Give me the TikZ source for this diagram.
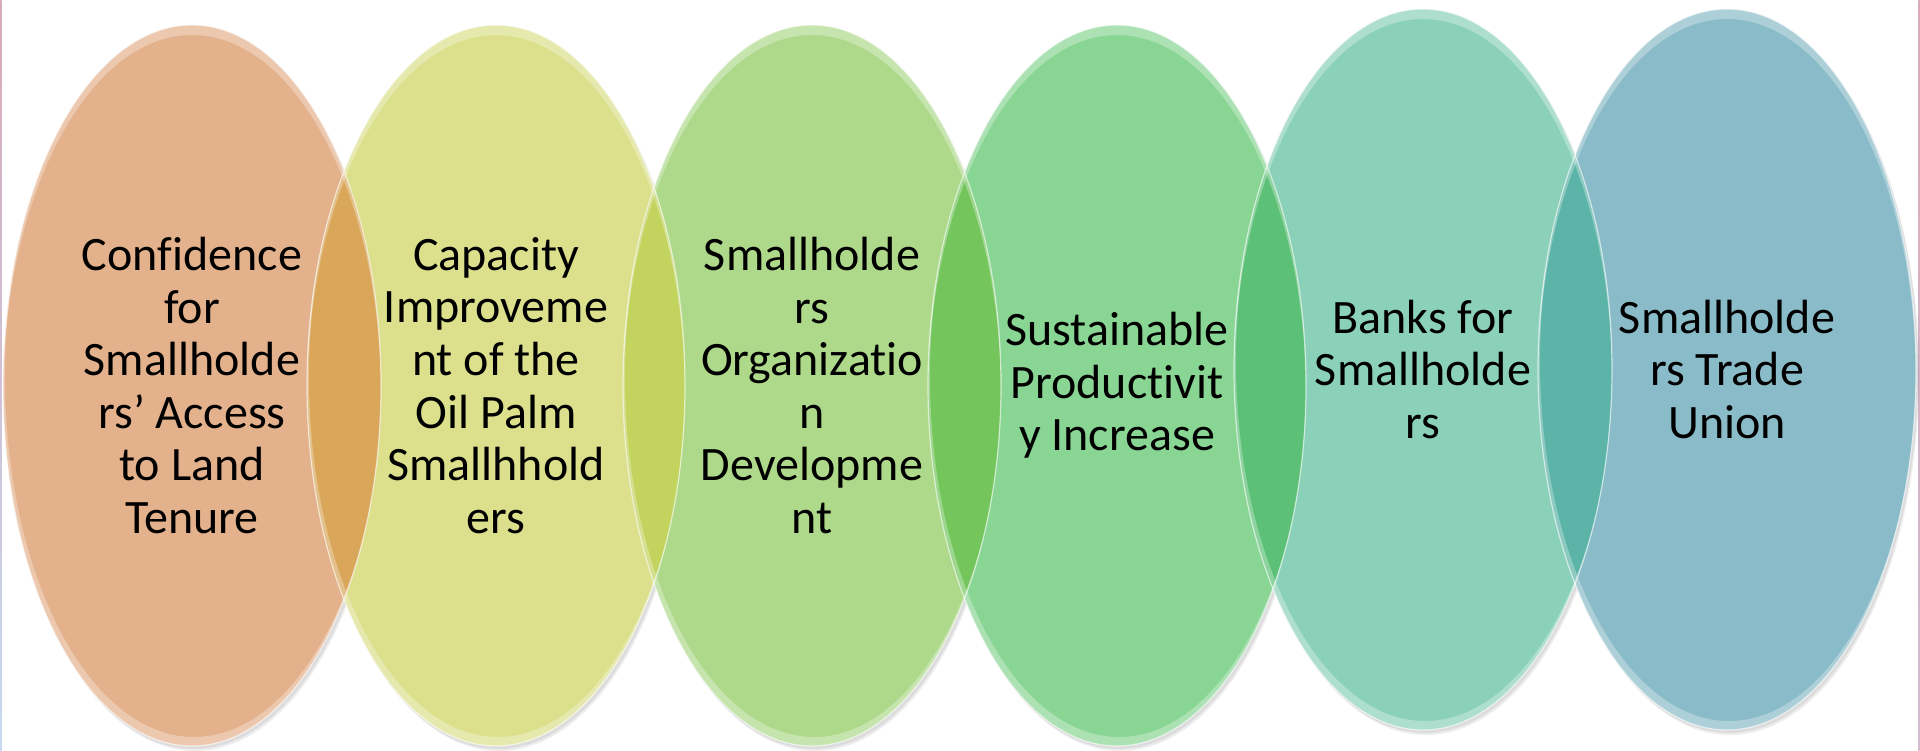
\documentclass[tikz,border=0pt]{standalone}
\usepackage{fontspec}
\setmainfont{Carlito}[Ligatures=NoCommon]
\definecolor{cA}{HTML}{E3B18B}
\definecolor{cB}{HTML}{DCE08C}
\definecolor{cC}{HTML}{AED98A}
\definecolor{cD}{HTML}{89D594}
\definecolor{cE}{HTML}{8BD1B9}
\definecolor{cF}{HTML}{8ABBC8}
\definecolor{oAB}{HTML}{D9A65A}
\definecolor{oBC}{HTML}{C2D35E}
\definecolor{oCD}{HTML}{74C55C}
\definecolor{oDE}{HTML}{5CC077}
\definecolor{oEF}{HTML}{5BB4A7}
\definecolor{edgeTop}{HTML}{D9A9B9}
\definecolor{edgeBot}{HTML}{C6D9F1}
\tikzset{
  lbl/.style={align=center, text=black, inner sep=0pt,
    font=\fontsize{48}{52.6}\selectfont},
  rad/.style={x radius=189, y radius=360.5},
  rimline/.style={draw=white, draw opacity=0.6, line width=1.2pt},
  shadowring/.style={fill=black, fill opacity=0.07},
  gloss/.style={fill=white, fill opacity=0.3, even odd rule}
}
\begin{document}
\begin{tikzpicture}[x=1pt,y=-1pt]
\useasboundingbox (0,0) rectangle (1920,750);
\fill[white] (0,0) rectangle (1920,750);
% page edge lines
\shade[top color=edgeTop, bottom color=edgeBot] (0,0) rectangle (1.6,750);
\shade[top color=edgeTop, bottom color=edgeTop!60!edgeBot] (1918.4,0) rectangle (1920,750);
% centres
\coordinate (pA) at (192,385.5);
\coordinate (pB) at (496,385.5);
\coordinate (pC) at (812,385.5);
\coordinate (pD) at (1117,385.5);
\coordinate (pE) at (1423,369.5);
\coordinate (pF) at (1727,369.5);
% soft shadows
\foreach \p in {pA,pB,pC,pD,pE,pF}{
  \fill[shadowring] ([shift={(3,5)}]\p) ellipse [rad];
  \fill[shadowring] ([shift={(2,3)}]\p) ellipse [rad];
}
% fills
\fill[cA] (pA) ellipse [rad];
\fill[cB] (pB) ellipse [rad];
\fill[cC] (pC) ellipse [rad];
\fill[cD] (pD) ellipse [rad];
\fill[cE] (pE) ellipse [rad];
\fill[cF] (pF) ellipse [rad];
% overlaps
\begin{scope}\clip (pA) ellipse [rad]; \fill[oAB] (pB) ellipse [rad];\end{scope}
\begin{scope}\clip (pB) ellipse [rad]; \fill[oBC] (pC) ellipse [rad];\end{scope}
\begin{scope}\clip (pC) ellipse [rad]; \fill[oCD] (pD) ellipse [rad];\end{scope}
\begin{scope}\clip (pD) ellipse [rad]; \fill[oDE] (pE) ellipse [rad];\end{scope}
\begin{scope}\clip (pE) ellipse [rad]; \fill[oEF] (pF) ellipse [rad];\end{scope}
% glossy highlights and rims
\foreach \p in {pA,pB,pC,pD,pE,pF}{
  \begin{scope}
    \clip (\p) ellipse [rad];
    \fill[gloss] (\p) ellipse [rad] ([shift={(0,10)}]\p) ellipse [rad];
    \fill[gloss] (\p) ellipse [rad] ([shift={(2,-9)}]\p) ellipse [rad];
  \end{scope}
  \draw[rimline] (\p) ellipse [rad];
}
% labels
\node[lbl] (tA) at (pA) {Confidence\\for\\Smallholde\\rs’ Access\\to Land\\Tenure};
\node[lbl] (tB) at (pB) {Capacity\\Improveme\\nt of the\\Oil Palm\\Smallhhold\\ers};
\node[lbl] (tC) at (pC) {Smallholde\\rs\\Organizatio\\n\\Developme\\nt};
\node[lbl] (tD) at (pD) {Sustainable\\Productivit\\y Increase};
\node[lbl] (tE) at (pE) {Banks for\\Smallholde\\rs};
\node[lbl] (tF) at (pF) {Smallholde\\rs Trade\\Union};
\end{tikzpicture}
\end{document}
